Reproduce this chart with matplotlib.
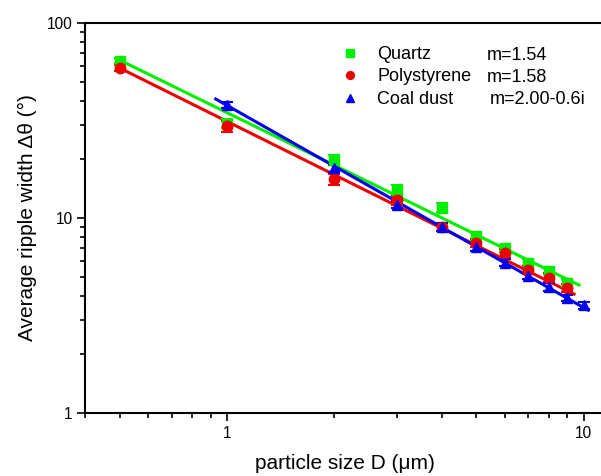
import numpy as np
import matplotlib
matplotlib.use("Agg")
import matplotlib.pyplot as plt

plt.rcParams['font.family'] = ['Liberation Sans', 'DejaVu Sans']

# particle sizes (um) and measured ripple widths (deg)
d_quartz = [0.5, 1, 2, 3, 4, 5, 6, 7, 8, 9]
w_quartz = [64, 30.5, 19.8, 13.9, 11.3, 8.1, 7.0, 5.9, 5.35, 4.65]
e_quartz = [2.0, 1.6, 1.2, 0.8, 0.6, 0.35, 0.3, 0.25, 0.2, 0.2]

d_poly = [0.5, 1, 2, 3, 4, 5, 6, 7, 8, 9]
w_poly = [59, 29.5, 15.8, 12.3, 9.0, 7.45, 6.6, 5.4, 4.95, 4.38]
e_poly = [2.0, 1.8, 1.0, 0.6, 0.4, 0.35, 0.35, 0.25, 0.25, 0.2]

d_coal = [1, 2, 3, 4, 5, 6, 7, 8, 9, 10]
w_coal = [38, 18, 11.7, 9.0, 7.1, 5.9, 5.05, 4.43, 3.89, 3.58]
e_coal = [1.5, 0.8, 0.5, 0.4, 0.3, 0.25, 0.2, 0.2, 0.15, 0.15]

# power-law fits  w = a * D^b, drawn over [lo, hi]
fit_a = [34.7, 31.3, 37.8]
fit_b = [-0.896, -0.910, -1.037]
fit_range = [(0.5, 9.7), (0.5, 9.4), (0.93, 10.3)]

names = ['Quartz', 'Polystyrene', 'Coal dust']
m_text = ['m=1.54', 'm=1.58', 'm=2.00-0.6i']
colors = ['#00ee00', '#ee0000', '#0000ee']
markers = ['s', 'o', '^']

fig = plt.figure(figsize=(6.01, 4.76), dpi=100)
W, H = 601, 476
ax = fig.add_axes([85 / W, 1 - 413 / H, (604 - 85) / W, (413 - 23) / H])

series = [(d_quartz, w_quartz, e_quartz), (d_poly, w_poly, e_poly), (d_coal, w_coal, e_coal)]
handles = []
for i, (d, w, e) in enumerate(series):
    lo, hi = fit_range[i]
    xs = np.logspace(np.log10(lo), np.log10(hi), 50)
    ax.plot(xs, fit_a[i] * xs ** fit_b[i], color=colors[i], lw=2.2, zorder=2)
    h = ax.errorbar(d, w, yerr=e, fmt=markers[i], color=colors[i], ms=7.5,
                    capsize=4, elinewidth=1.5, capthick=1.5, zorder=3)
    handles.append(h)

ax.set_xscale('log')
ax.set_yscale('log')
ax.set_xlim(0.4, 11.4)
ax.set_ylim(1, 100)
ax.set_xticks([1, 10])
ax.set_xticklabels(['1', '10'])
ax.set_yticks([1, 10, 100])
ax.set_yticklabels(['1', '10', '100'])
ax.xaxis.set_minor_locator(matplotlib.ticker.LogLocator(base=10, subs=np.arange(2, 10)))
ax.yaxis.set_minor_locator(matplotlib.ticker.LogLocator(base=10, subs=np.arange(2, 10)))
ax.xaxis.set_minor_formatter(matplotlib.ticker.NullFormatter())
ax.yaxis.set_minor_formatter(matplotlib.ticker.NullFormatter())
ax.tick_params(which='major', direction='out', length=6, width=1.2, labelsize=11.2, pad=3)
ax.tick_params(which='minor', direction='out', length=3.5, width=1.2)
for s in ax.spines.values():
    s.set_linewidth(1.5)

ax.set_xlabel('particle size D (μm)', fontsize=15, labelpad=10)
ax.set_ylabel('Average ripple width Δθ (°)', fontsize=15, labelpad=7)

leg = ax.legend([h[0] for h in handles], names, loc='upper left',
                bbox_to_anchor=(341 / W, 1 - 46 / H), bbox_transform=fig.transFigure,
                frameon=False, fontsize=13, handlelength=1.0, handletextpad=1.0,
                labelspacing=0.3, borderpad=0, borderaxespad=0, markerscale=0.75)
rows = [55, 77, 100]
m_x = [487, 487, 490]
for i in range(3):
    fig.text(m_x[i] / W, 1 - rows[i] / H, m_text[i], fontsize=13, va='center', ha='left')

fig.savefig('out.png', dpi=100)
